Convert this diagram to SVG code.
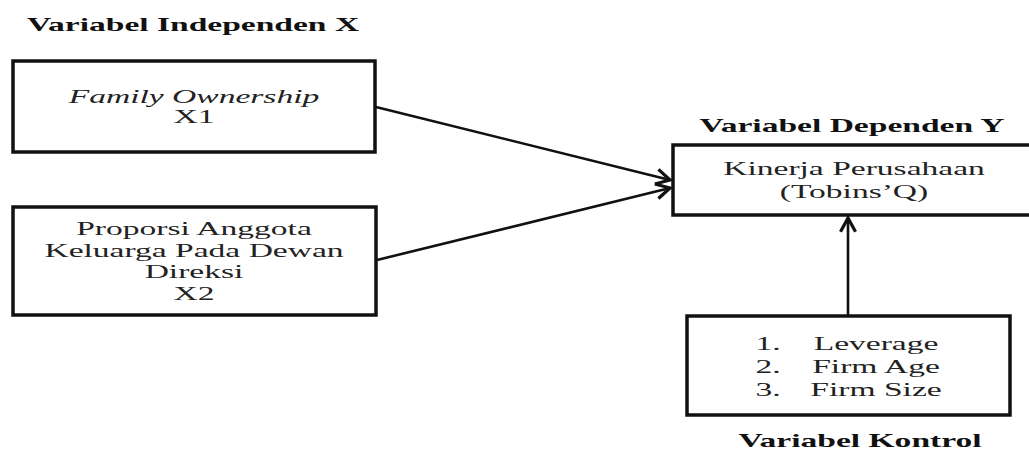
<svg xmlns="http://www.w3.org/2000/svg" width="1029" height="452" viewBox="0 0 1029 452">
<style>
.box{fill:#fff;stroke:#111;stroke-width:3.5}
.t{font-family:"Liberation Serif","Times New Roman",serif;font-size:19.5px;fill:#222;text-anchor:middle}
.h{font-family:"Liberation Serif","Times New Roman",serif;font-size:19.5px;font-weight:bold;fill:#111;text-anchor:middle}
.conn{stroke:#111;stroke-width:2.6;fill:none}
</style>
<defs>
<marker id="arr" markerUnits="userSpaceOnUse" markerWidth="20" markerHeight="20" viewBox="-14 -8 16 16" refX="0" refY="0" orient="auto">
<path d="M-11,-6 L0,0 L-11,6" fill="none" stroke="#111" stroke-width="2.6"/>
</marker>
</defs>
<rect width="1029" height="452" fill="#fff"/>
<text class="h" transform="translate(193,31) scale(1.72,1)">Variabel Independen X</text>
<text class="h" transform="translate(852,132) scale(1.72,1)">Variabel Dependen Y</text>
<text class="h" transform="translate(860,447) scale(1.72,1)">Variabel Kontrol</text>
<g id="connectors">
<line class="conn" x1="376" y1="107" x2="670" y2="180" marker-end="url(#arr)"/>
<line class="conn" x1="377" y1="260" x2="670" y2="188" marker-end="url(#arr)"/>
<line class="conn" x1="848" y1="316" x2="848" y2="218" marker-end="url(#arr)"/>
</g>
<g id="x1">
<rect class="box" x="13" y="61" width="362" height="91"/>
<text class="t" transform="translate(194,103) scale(1.72,1)"><tspan font-style="italic">Family Ownership</tspan><tspan x="0" y="20">X1</tspan></text>
</g>
<g id="x2">
<rect class="box" x="13" y="207" width="363" height="108"/>
<text class="t" transform="translate(194,235) scale(1.72,1)"><tspan x="0" y="0">Proporsi Anggota</tspan><tspan x="0" y="22">Keluarga Pada Dewan</tspan><tspan x="0" y="43">Direksi</tspan><tspan x="0" y="65">X2</tspan></text>
</g>
<g id="y">
<rect class="box" x="673" y="145" width="362" height="70"/>
<text class="t" transform="translate(854,175) scale(1.72,1)"><tspan x="0" y="0">Kinerja Perusahaan</tspan><tspan x="0" y="23">(Tobins’Q)</tspan></text>
</g>
<g id="kontrol">
<rect class="box" x="687" y="316" width="323" height="99"/>
<text class="t" transform="translate(768,350) scale(1.72,1)"><tspan x="0" y="0">1.</tspan><tspan x="0" y="23">2.</tspan><tspan x="0" y="46">3.</tspan></text>
<text class="t" transform="translate(876,350) scale(1.72,1)"><tspan x="0" y="0">Leverage</tspan><tspan x="0" y="23">Firm Age</tspan><tspan x="0" y="46">Firm Size</tspan></text>
</g>
</svg>
